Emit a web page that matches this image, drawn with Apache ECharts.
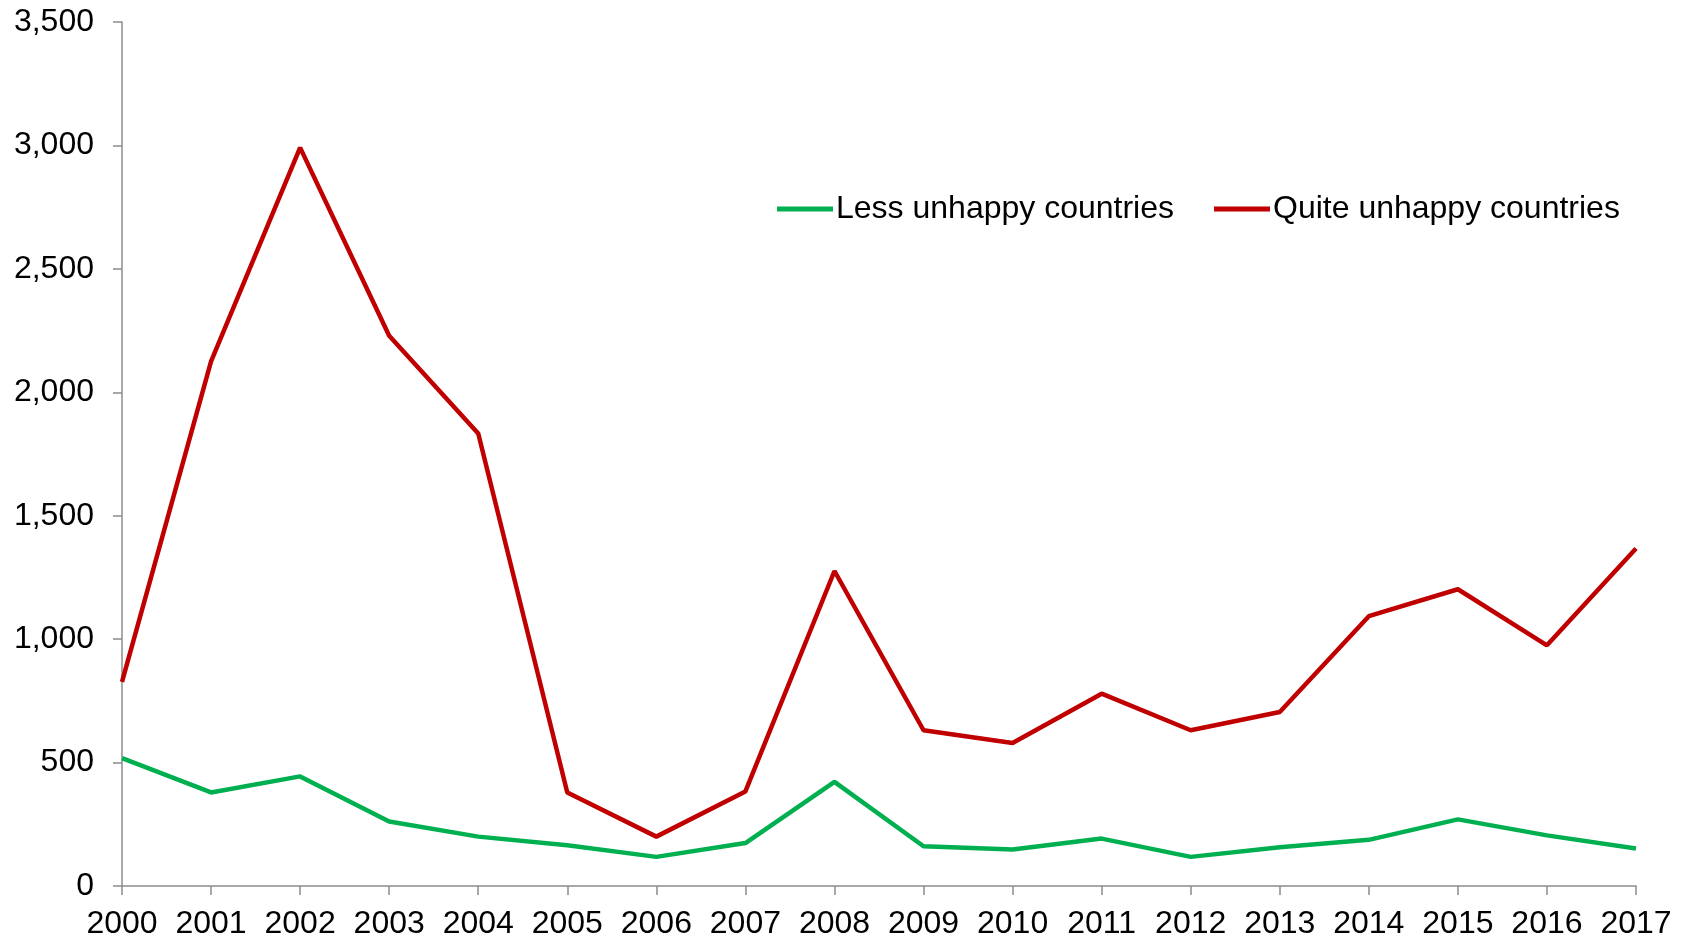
<!DOCTYPE html>
<html>
<head>
<meta charset="utf-8">
<script src="https://cdn.jsdelivr.net/npm/echarts@6/dist/echarts.min.js"></script>
<style>html,body{margin:0;padding:0;background:#fff;}#c{width:1685px;height:941px;}</style>
</head>
<body>
<div id="c"></div>
<script>
const years = ['2000','2001','2002','2003','2004','2005','2006','2007','2008','2009','2010','2011','2012','2013','2014','2015','2016','2017'];
const lessUnhappy = [518,379,444,261,200,165,118,174,422,161,148,192,118,157,187,270,205,152];
const quiteUnhappy = [827,2125,2991,2229,1833,379,200,383,1276,631,579,779,631,705,1093,1202,975,1367];
const seriesNames = ['Less unhappy countries','Quite unhappy countries'];

const font = 'Liberation Sans, Arial, sans-serif';
const axisColor = '#8c8c8c';
const chart = echarts.init(document.getElementById('c'));
chart.setOption({
  animation: false,
  backgroundColor: '#fff',
  grid: {left: 122, right: 49, top: 22, bottom: 55, containLabel: false},
  legend: {
    left: 772, top: 188,
    itemWidth: 56, itemHeight: 5, itemGap: 40,
    icon: 'rect',
    textStyle: {fontFamily: font, fontSize: 32, color: '#000', padding: [0,0,0,-2]},
    data: seriesNames
  },
  xAxis: {
    type: 'category', data: years, boundaryGap: false,
    axisLine: {lineStyle: {color: axisColor, width: 1.5}},
    axisTick: {length: 9, lineStyle: {color: axisColor, width: 1.5}},
    axisLabel: {fontFamily: font, fontSize: 32, color: '#000', margin: 22, interval: 0}
  },
  yAxis: {
    type: 'value', min: 0, max: 3500, interval: 500,
    axisLine: {show: true, lineStyle: {color: axisColor, width: 1.5}},
    axisTick: {show: true, length: 9, lineStyle: {color: axisColor, width: 1.5}},
    splitLine: {show: false},
    axisLabel: {fontFamily: font, fontSize: 32, color: '#000', margin: 28,
      formatter: v => v.toLocaleString('en-US')}
  },
  series: [
    {name: seriesNames[0], type: 'line', data: lessUnhappy, symbol: 'none',
     lineStyle: {color: '#00B050', width: 4.5}, itemStyle: {color: '#00B050'}},
    {name: seriesNames[1], type: 'line', data: quiteUnhappy, symbol: 'none',
     lineStyle: {color: '#C00000', width: 4.5}, itemStyle: {color: '#C00000'}}
  ]
});
</script>
</body>
</html>
